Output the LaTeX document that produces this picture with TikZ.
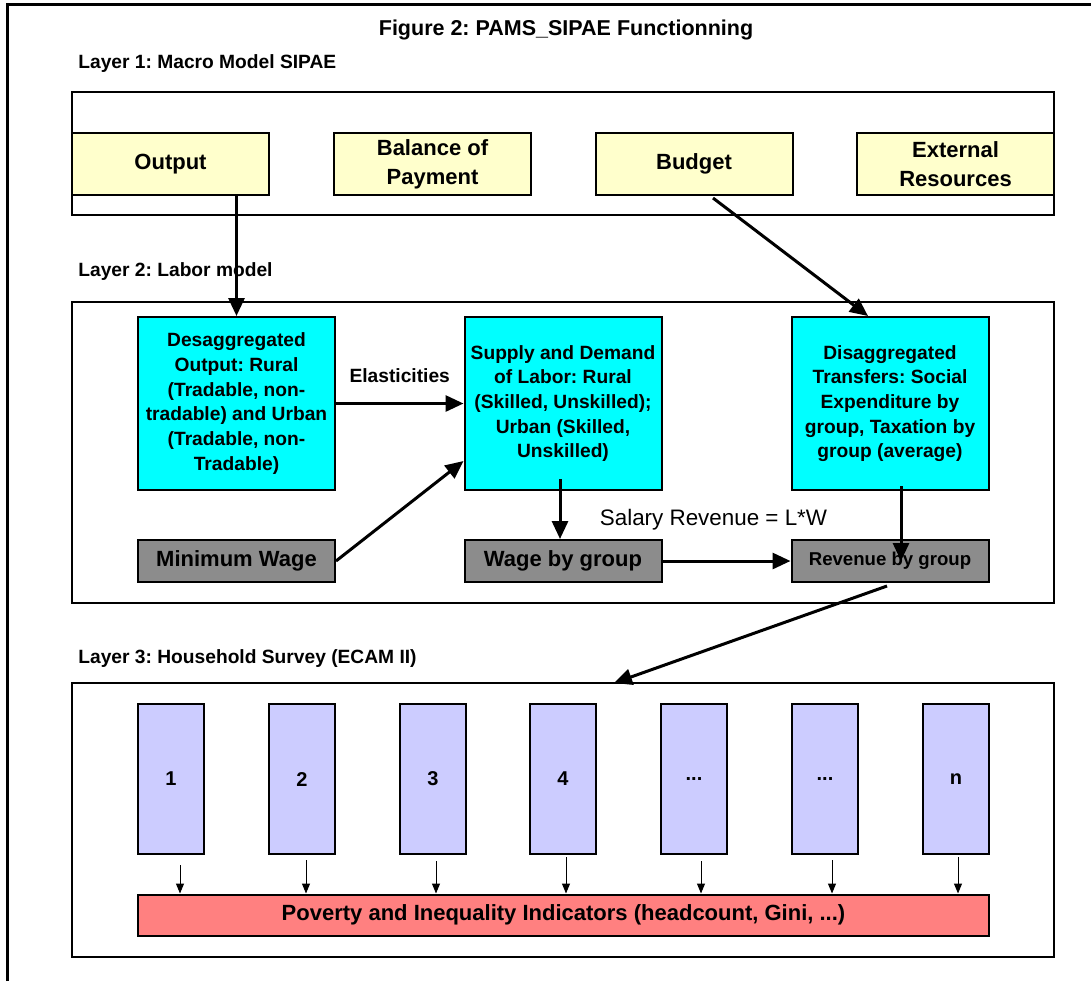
\documentclass[tikz,border=0pt]{standalone}
\usepackage{fontspec}
\setmainfont{Liberation Sans}
\usetikzlibrary{arrows.meta,calc,positioning}
\frenchspacing

\definecolor{paleyellow}{HTML}{FFFFCC}
\definecolor{aqua}{HTML}{00FFFF}
\definecolor{midgrey}{HTML}{8C8C8C}
\definecolor{lavender}{HTML}{CCCCFF}
\definecolor{salmon}{HTML}{FF8080}

\begin{document}
\begin{tikzpicture}[x=0.5pt,y=-0.5pt,
  frame/.style={draw=black,line width=1pt},
  macro/.style={draw=black,line width=1pt,fill=paleyellow,minimum width=98.5pt,
                minimum height=31pt,inner sep=0pt,align=center,
                font=\fontsize{11}{14.5}\selectfont\bfseries},
  labor/.style={draw=black,line width=1pt,fill=aqua,minimum width=98.5pt,
                minimum height=86.5pt,inner sep=0pt,align=center,
                font=\fontsize{9.6}{12.35}\selectfont\bfseries},
  wagebox/.style={draw=black,line width=1pt,fill=midgrey,minimum width=98.5pt,
                  minimum height=21pt,inner sep=0pt,
                  font=\fontsize{11}{13}\selectfont\bfseries},
  hhcol/.style={draw=black,line width=1pt,fill=lavender,minimum width=33pt,
                minimum height=75pt,inner sep=0pt,
                font=\fontsize{10}{12}\selectfont\bfseries},
  layerlab/.style={anchor=base west,inner sep=0pt,
                   font=\fontsize{9.6}{12}\selectfont\bfseries},
  flow/.style={line width=1.5pt,-{Triangle[length=9pt,width=8pt]}},
  feed/.style={line width=0.5pt,-{Triangle[length=5pt,width=4pt]}}
]
\useasboundingbox (0,0) rectangle (1091,981);

% ---- outer frame and title ----
\draw[line width=1.5pt] (7,981) -- (7,4) -- (1091,4);
\node[anchor=base,font=\fontsize{10.75}{13}\selectfont\bfseries] (title)
  at (566,35) {Figure 2: PAMS\_SIPAE Functionning};

% ---- Layer 1: macro model ----
\node[layerlab] (lab1) at (78,68) {Layer 1: Macro Model SIPAE};
\draw[frame] (72,92) rectangle (1054,215);
\node[macro] (out)    at (170.5,164) {Output};
\node[macro] (bop)    at (432.5,164) {Balance of\\Payment};
\node[macro] (budget) at (694,164)   {Budget};
\node[macro] (extres) at (955.5,164) {External\\Resources};

% ---- Layer 2: labor model ----
\node[layerlab] (lab2) at (78,276) {Layer 2: Labor model};
\draw[frame] (72,302) rectangle (1054,603);
\node[labor] (desagg) at (236.5,403.5)
  {Desaggregated\\Output: Rural\\(Tradable, non-\\tradable) and Urban\\(Tradable, non-\\Tradable)};
\node[labor] (supply) at (563,403.5)
  {Supply and Demand\\of Labor: Rural\\(Skilled, Unskilled);\\Urban (Skilled,\\Unskilled)};
\node[labor] (transfers) at (890,403.5)
  {Disaggregated\\Transfers: Social\\Expenditure by\\group, Taxation by\\group (average)};
\node[wagebox] (minwage) at (236.5,561) {Minimum Wage};
\node[wagebox] (wage)    at (563,561)   {Wage by group};
\node[wagebox,font=\fontsize{9.3}{11}\selectfont\bfseries] (revenue) at (890,561)
  {Revenue by group};
\node[anchor=base,font=\fontsize{11.2}{13}\selectfont] (salary) at (713.5,525)
  {Salary Revenue = L*W};

% ---- Layer 3: household survey ----
\node[layerlab] (lab3) at (78,663) {Layer 3: Household Survey (ECAM II)};
\draw[frame] (72,683) rectangle (1054,957);
\coordinate (hhtop) at (614,683);
\node[hhcol] (c1) at (171,779) {1};
\node[hhcol] (c2) at (302,779) {2};
\node[hhcol] (c3) at (433,779) {3};
\node[hhcol] (c4) at (563,779) {4};
\node[hhcol] (c5) at (694,779) {...};
\node[hhcol] (c6) at (825,779) {...};
\node[hhcol] (c7) at (956,779) {n};
\node[draw=black,line width=1pt,fill=salmon,minimum width=425.5pt,minimum height=20.5pt,
      inner sep=0pt,font=\fontsize{11}{13}\selectfont\bfseries] (bar) at (563.5,915)
  {Poverty and Inequality Indicators (headcount, Gini, ...)};

% ---- connectors ----
\draw[flow] (desagg.north |- out.south) -- (desagg.north);
\draw[flow] ($(budget.south)+(19,2)$) -- ($(transfers.north)+(-22,0)$);
\draw[flow] (desagg.east) -- (supply.west)
  node[midway,above=6.5pt,font=\fontsize{9.6}{12}\selectfont\bfseries] {Elasticities};
\draw[flow] (minwage.east) -- ($(supply.south west)+(0,-30)$);
\draw[flow] ($(supply.south)+(-3,-12)$) -- ($(wage.north)+(-3,0)$);
\draw[flow] (wage.east) -- (revenue.west);
\draw[flow] ($(transfers.south)+(11,-5)$) -- ($(revenue.center)+(11,0)$);
\draw[flow] ($(revenue.south)+(-3,3)$) -- (hhtop);

% small arrows into the indicators bar
\coordinate (f1) at ($(c1.south)+(9,10)$);
\coordinate (f2) at ($(c2.south)+(4,5)$);
\coordinate (f3) at ($(c3.south)+(3,6)$);
\coordinate (f4) at ($(c4.south)+(3,2)$);
\coordinate (f5) at ($(c5.south)+(7,6)$);
\coordinate (f6) at ($(c6.south)+(7,5)$);
\coordinate (f7) at ($(c7.south)+(2,2)$);
\draw[feed] (f1) -- (f1 |- bar.north);
\draw[feed] (f2) -- (f2 |- bar.north);
\draw[feed] (f3) -- (f3 |- bar.north);
\draw[feed] (f4) -- (f4 |- bar.north);
\draw[feed] (f5) -- (f5 |- bar.north);
\draw[feed] (f6) -- (f6 |- bar.north);
\draw[feed] (f7) -- (f7 |- bar.north);

\end{tikzpicture}
\end{document}
